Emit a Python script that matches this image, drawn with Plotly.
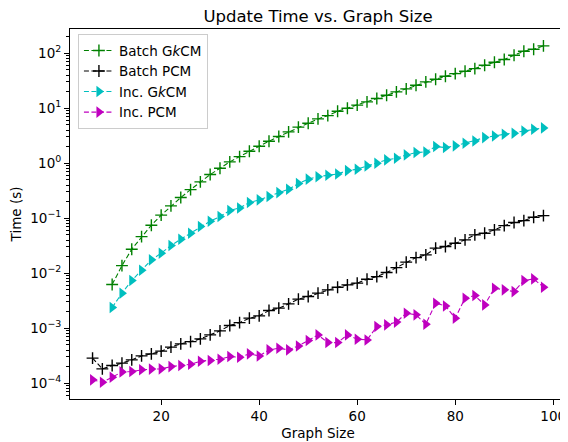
import plotly.graph_objects as go

# graph sizes
x_batch_gkcm = list(range(10, 100, 2))
x_inc_gkcm = list(range(10, 100, 2))
x_batch_pcm = list(range(6, 100, 2))
x_inc_pcm = list(range(6, 100, 2))

# update times (s)
batch_gkcm = [0.00621, 0.01374, 0.0273, 0.0462, 0.0746, 0.1135, 0.1675, 0.237, 0.331, 0.457,
              0.621, 0.811, 1.057, 1.318, 1.652, 2.037, 2.512, 3.048, 3.707, 4.519,
              5.333, 6.383, 7.328, 8.81, 10.0, 11.35, 13.03, 14.96, 17.22, 19.77,
              22.44, 26.18, 30.06, 33.65, 38.19, 42.56, 47.1, 52.5, 60.5, 68.5,
              76.6, 92.0, 108.6, 118.3, 135.8]
inc_gkcm = [0.00237, 0.00433, 0.00733, 0.01135, 0.01746, 0.0231, 0.0318, 0.0415, 0.0533, 0.0703,
            0.0881, 0.1069, 0.1374, 0.1538, 0.1923, 0.2153, 0.2472, 0.2917, 0.3365, 0.4266,
            0.5129, 0.5689, 0.6026, 0.6383, 0.7328, 0.778, 0.893, 1.0, 1.148, 1.233,
            1.416, 1.56, 1.603, 2.005, 1.923, 2.065, 2.312, 2.541, 2.917, 3.133,
            3.365, 3.508, 3.864, 4.15, 4.385]
batch_pcm = [2.85e-4, 1.82e-4, 2.09e-4, 2.31e-4, 2.65e-4, 3.13e-4, 3.41e-4, 3.82e-4, 4.52e-4, 5.19e-4,
             5.70e-4, 6.38e-4, 7.55e-4, 8.93e-4, 1.12e-3, 1.26e-3, 1.52e-3, 1.67e-3, 2.09e-3, 2.31e-3,
             2.77e-3, 3.37e-3, 3.76e-3, 4.33e-3, 4.97e-3, 5.56e-3, 6.12e-3, 6.58e-3, 7.76e-3, 8.67e-3,
             1.026e-2, 1.26e-2, 1.585e-2, 1.92e-2, 2.15e-2, 2.85e-2, 3.05e-2, 3.51e-2, 4.03e-2, 4.97e-2,
             5.33e-2, 6.12e-2, 7.33e-2, 8.32e-2, 9.04e-2, 0.1042, 0.1114]
inc_pcm = [1.148e-4, 1.042e-4, 1.285e-4, 1.603e-4, 1.626e-4, 1.746e-4, 1.80e-4, 1.82e-4, 2.00e-4, 2.09e-4,
           2.21e-4, 2.51e-4, 2.58e-4, 2.73e-4, 3.05e-4, 2.95e-4, 3.41e-4, 3.13e-4, 4.03e-4, 4.32e-4,
           4.03e-4, 4.76e-4, 5.96e-4, 7.55e-4, 5.47e-4, 5.47e-4, 7.55e-4, 6.31e-4, 6.12e-4, 1.069e-3,
           1.148e-3, 1.288e-3, 1.875e-3, 1.746e-3, 1.183e-3, 2.85e-3, 2.54e-3, 1.52e-3, 3.51e-3, 3.92e-3,
           2.65e-3, 5.33e-3, 4.97e-3, 4.62e-3, 7.33e-3, 7.87e-3, 5.56e-3]

x_tickvals = [20, 40, 60, 80, 100]
y_tickvals = [1e-4, 1e-3, 1e-2, 1e-1, 1e0, 1e1, 1e2]
y_ticktext = ["10<sup>\u22124</sup>", "10<sup>\u22123</sup>", "10<sup>\u22122</sup>", "10<sup>\u22121</sup>",
              "10<sup>0</sup>", "10<sup>1</sup>", "10<sup>2</sup>"]

fnt = "DejaVu Sans"
dash = "5px,2.5px"
fig = go.Figure()
fig.add_trace(go.Scatter(x=x_batch_gkcm, y=batch_gkcm, name="Batch G<i>k</i>CM", mode="lines+markers",
                         line=dict(color="#008000", width=1.1, dash=dash),
                         marker=dict(symbol="cross-thin", size=8.5, line=dict(color="#008000", width=1.4))))
fig.add_trace(go.Scatter(x=x_batch_pcm, y=batch_pcm, name="Batch PCM", mode="lines+markers",
                         line=dict(color="#000000", width=1.1, dash=dash),
                         marker=dict(symbol="cross-thin", size=8.5, line=dict(color="#000000", width=1.4))))
fig.add_trace(go.Scatter(x=x_inc_gkcm, y=inc_gkcm, name="Inc. G<i>k</i>CM", mode="lines+markers",
                         line=dict(color="#00bfbf", width=1.1, dash=dash),
                         marker=dict(symbol="triangle-right", size=10, color="#00bfbf")))
fig.add_trace(go.Scatter(x=x_inc_pcm, y=inc_pcm, name="Inc. PCM", mode="lines+markers",
                         line=dict(color="#bf00bf", width=1.1, dash=dash),
                         marker=dict(symbol="triangle-right", size=10, color="#bf00bf")))

axis_style = dict(showline=True, linecolor="black", linewidth=1, mirror=True, showgrid=False, zeroline=False,
                  ticks="outside", ticklen=5, tickwidth=1, tickcolor="black",
                  tickfont=dict(family=fnt, size=13.5, color="black"))

fig.update_xaxes(range=[1.4, 102.6], tickvals=x_tickvals, ticklabeloverflow="allow",
                 title=dict(text="Graph Size", font=dict(family=fnt, size=13.5, color="black"), standoff=5),
                 **axis_style)
fig.update_yaxes(type="log", range=[-4.288, 2.44], tickvals=y_tickvals, ticktext=y_ticktext,
                 minor=dict(ticks="outside", ticklen=3, tickwidth=0.8, tickcolor="black", dtick="D1", showgrid=False),
                 title=dict(text="Time (s)", font=dict(family=fnt, size=13.5, color="black"), standoff=6),
                 **axis_style)

# page body has an 8px margin, so the figure is sized to fill the rest of the window
fig.update_layout(
    width=560, height=434,
    margin=dict(l=62, r=2, t=21, b=43),
    paper_bgcolor="white", plot_bgcolor="white",
    font=dict(family=fnt, color="black"),
    title=dict(text="Update Time vs. Graph Size", x=0.5, xref="paper", y=0.982, yref="container",
               yanchor="middle", font=dict(family=fnt, size=16.5, color="black")),
    legend=dict(x=0.016, y=0.986, xanchor="left", yanchor="top", bgcolor="white",
                bordercolor="#cccccc", borderwidth=1, font=dict(family=fnt, size=13.5, color="black"),
                tracegroupgap=0),
    showlegend=True,
)

fig.write_html("out.html")
